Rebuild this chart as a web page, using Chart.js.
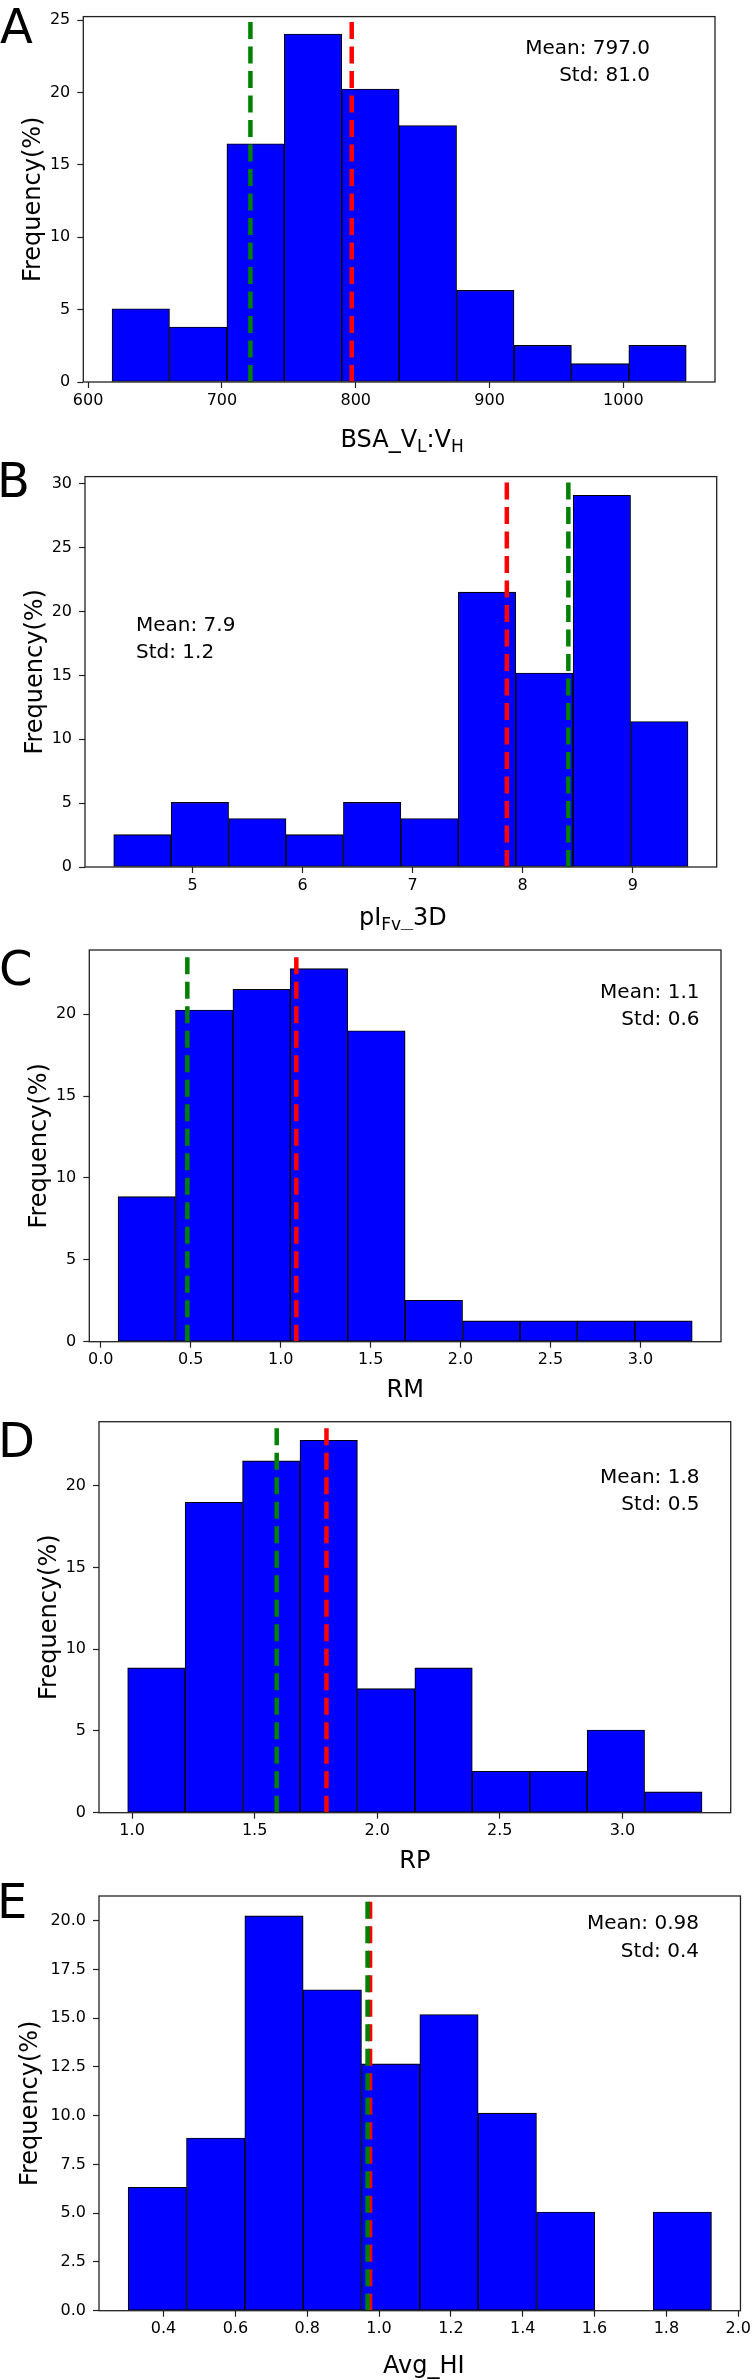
<!DOCTYPE html>
<html>
<head>
<meta charset="utf-8">
<script src="https://cdn.jsdelivr.net/npm/chart.js@4.4.0/dist/chart.umd.min.js"></script>
<style>
  html, body { margin: 0; padding: 0; background: #fff; }
  body { width: 754px; height: 2380px; position: relative; overflow: hidden; }
  canvas { position: absolute; left: 0; }
</style>
</head>
<body>
<canvas id="chartA"></canvas>
<canvas id="chartB"></canvas>
<canvas id="chartC"></canvas>
<canvas id="chartD"></canvas>
<canvas id="chartE"></canvas>
<script>
// ---- data (frequencies in %, n = 79) ----
const binEdgesA = [617.9, 660.81, 703.72, 746.63, 789.54, 832.45, 875.36, 918.27, 961.18, 1004.09, 1047.0];
const freqA = [5.06, 3.80, 16.46, 24.05, 20.25, 17.72, 6.33, 2.53, 1.27, 2.53];
const meanA = 797.0, medianA = 721.3;

const binEdgesB = [4.284, 4.8058, 5.3276, 5.8494, 6.3712, 6.893, 7.4148, 7.9366, 8.4584, 8.9802, 9.502];
const freqB = [2.53, 5.06, 3.80, 2.53, 5.06, 3.80, 21.52, 15.19, 29.11, 11.39];
const meanB = 7.856, medianB = 8.415;

const binEdgesC = [0.096, 0.4152, 0.7344, 1.0536, 1.3728, 1.692, 2.0112, 2.3304, 2.6496, 2.9688, 3.288];
const freqC = [8.86, 20.25, 21.52, 22.78, 18.99, 2.53, 1.27, 1.27, 1.27, 1.27];
const meanC = 1.087, medianC = 0.481;

const binEdgesD = [0.982, 1.2163, 1.4506, 1.6849, 1.9192, 2.1535, 2.3878, 2.6221, 2.8564, 3.0907, 3.325];
const freqD = [8.86, 18.99, 21.52, 22.78, 7.59, 8.86, 2.53, 2.53, 5.06, 1.27];
const meanD = 1.793, medianD = 1.59;

const binEdgesE = [0.3015, 0.4639, 0.6263, 0.7887, 0.9511, 1.1135, 1.2759, 1.4383, 1.6007, 1.7631, 1.9255];
const freqE = [6.33, 8.86, 20.25, 16.46, 12.66, 15.19, 10.13, 5.06, 0, 5.06];
const meanE = 0.975, medianE = 0.968;

const xTicksA = [600, 700, 800, 900, 1000];
const xLabelsA = ['600', '700', '800', '900', '1000'];
const yTicksA = [0, 5, 10, 15, 20, 25];
const yLabelsA = ['0', '5', '10', '15', '20', '25'];

const xTicksB = [5, 6, 7, 8, 9];
const xLabelsB = ['5', '6', '7', '8', '9'];
const yTicksB = [0, 5, 10, 15, 20, 25, 30];
const yLabelsB = ['0', '5', '10', '15', '20', '25', '30'];

const xTicksC = [0, 0.5, 1, 1.5, 2, 2.5, 3];
const xLabelsC = ['0.0', '0.5', '1.0', '1.5', '2.0', '2.5', '3.0'];
const yTicksC = [0, 5, 10, 15, 20];
const yLabelsC = ['0', '5', '10', '15', '20'];

const xTicksD = [1, 1.5, 2, 2.5, 3];
const xLabelsD = ['1.0', '1.5', '2.0', '2.5', '3.0'];
const yTicksD = [0, 5, 10, 15, 20];
const yLabelsD = ['0', '5', '10', '15', '20'];

const xTicksE = [0.4, 0.6, 0.8, 1.0, 1.2, 1.4, 1.6, 1.8, 2.0];
const xLabelsE = ['0.4', '0.6', '0.8', '1.0', '1.2', '1.4', '1.6', '1.8', '2.0'];
const yTicksE = [0, 2.5, 5, 7.5, 10, 12.5, 15, 17.5, 20];
const yLabelsE = ['0.0', '2.5', '5.0', '7.5', '10.0', '12.5', '15.0', '17.5', '20.0'];

const statsA = ['Mean: 797.0', 'Std: 81.0'];
const statsB = ['Mean: 7.9', 'Std: 1.2'];
const statsC = ['Mean: 1.1', 'Std: 0.6'];
const statsD = ['Mean: 1.8', 'Std: 0.5'];
const statsE = ['Mean: 0.98', 'Std: 0.4'];

// axis titles, [text, isSubscript]
const xTitleA = [['BSA_V', 0], ['L', 1], [':V', 0], ['H', 1]];
const xTitleB = [['pI', 0], ['Fv', 1], ['_3D', 0]];
const xTitleC = [['RM', 0]];
const xTitleD = [['RP', 0]];
const xTitleE = [['Avg_HI', 0]];
const yTitle = 'Frequency(%)';

const FONT = '"DejaVu Sans", sans-serif';
Chart.defaults.font.family = FONT;
Chart.defaults.font.size = 16;
Chart.defaults.color = '#000';

function centers(edges) {
  return edges.slice(0, -1).map((e, i) => (e + edges[i + 1]) / 2);
}

function drawRich(ctx, parts, cx, baseline, size) {
  const subSize = Math.round(size * 0.7);
  let total = 0;
  const widths = parts.map(p => {
    ctx.font = (p[1] ? subSize : size) + 'px ' + FONT;
    const w = ctx.measureText(p[0]).width;
    total += w;
    return w;
  });
  let x = cx - total / 2;
  ctx.textAlign = 'left';
  ctx.textBaseline = 'alphabetic';
  parts.forEach((p, i) => {
    ctx.font = (p[1] ? subSize : size) + 'px ' + FONT;
    ctx.fillText(p[0], x, baseline + (p[1] ? size * 0.22 : 0));
    x += widths[i];
  });
}

// box, panel letter, axis titles, stats text
const decor = {
  id: 'decor',
  afterDraw(chart, args, o) {
    const ctx = chart.ctx;
    const a = chart.chartArea;
    const t = o.top;
    ctx.save();
    ctx.strokeStyle = '#222';
    ctx.lineWidth = 1.3;
    ctx.strokeRect(a.left, a.top, a.right - a.left, a.bottom - a.top);

    ctx.fillStyle = '#000';
    ctx.font = '48px ' + FONT;
    ctx.textAlign = 'left';
    ctx.textBaseline = 'alphabetic';
    ctx.fillText(o.letter, o.letterX, o.letterY - t);

    ctx.save();
    ctx.translate(o.yTitleX, (a.top + a.bottom) / 2);
    ctx.rotate(-Math.PI / 2);
    ctx.font = '24px ' + FONT;
    ctx.textAlign = 'center';
    ctx.fillText(yTitle, 0, 0);
    ctx.restore();

    drawRich(ctx, o.xTitle, (a.left + a.right) / 2 + o.xTitleDx, o.xTitleY - t, 24);

    ctx.font = '20px ' + FONT;
    ctx.textAlign = o.statsAlign;
    ctx.textBaseline = 'middle';
    o.stats.forEach((s, i) => ctx.fillText(s, o.statsX, o.statsY[i] - t));
    ctx.restore();
  }
};

function makePanel(p) {
  const canvas = document.getElementById(p.id);
  canvas.width = 754;
  canvas.height = p.h;
  canvas.style.top = p.top + 'px';
  const mids = centers(p.edges);
  const vline = v => [{x: v, y: 0}, {x: v, y: p.ymax}];
  const lineStyle = {type: 'line', borderWidth: 4.5, borderDash: [17, 7.5], pointRadius: 0, fill: false, tension: 0};

  new Chart(canvas, {
    type: 'bar',
    data: {
      datasets: [
        {
          data: mids.map((x, i) => ({x: x, y: p.freq[i]})),
          backgroundColor: '#0000ff', borderColor: '#000', borderWidth: 1.1,
          borderSkipped: false, barPercentage: 1, categoryPercentage: 1, order: 3
        },
        Object.assign({data: vline(p.mean), borderColor: '#ff0000', order: 2}, lineStyle),
        Object.assign({data: vline(p.median), borderColor: '#008000', order: 1}, lineStyle)
      ]
    },
    options: {
      responsive: false,
      animation: false,
      events: [],
      layout: {padding: {left: 0, right: 754 - p.plot.right, top: p.plot.top - p.top, bottom: 0}},
      plugins: {
        legend: {display: false},
        tooltip: {enabled: false},
        decor: Object.assign({top: p.top}, p.text)
      },
      scales: {
        x: {
          type: 'linear', min: p.xRange[0], max: p.xRange[1], offset: false,
          border: {display: false},
          grid: {display: true, offset: false, drawOnChartArea: false, drawTicks: true, tickLength: 6, tickWidth: 1.2, tickColor: '#222'},
          ticks: {padding: 3, maxRotation: 0, autoSkip: false, callback: (v, i) => p.xLabels[i]},
          afterBuildTicks: s => { s.ticks = p.xTicks.map(v => ({value: v})); },
          afterFit: s => { s.height = p.h - (p.plot.bottom - p.top); }
        },
        y: {
          min: 0, max: p.ymax,
          border: {display: false},
          grid: {display: true, drawOnChartArea: false, drawTicks: true, tickLength: 6, tickWidth: 1.2, tickColor: '#222'},
          ticks: {padding: 7, autoSkip: false, callback: (v, i) => p.yLabels[i]},
          afterBuildTicks: s => { s.ticks = p.yTicks.map(v => ({value: v})); },
          afterFit: s => { s.width = p.plot.left; }
        }
      }
    },
    plugins: [decor]
  });
}

makePanel({
  id: 'chartA', top: 0, h: 460,
  plot: {left: 83.3, top: 7.5, right: 715, bottom: 382},
  edges: binEdgesA, freq: freqA, mean: meanA, median: medianA,
  xRange: [596.4, 1068.5], ymax: 25.25,
  xTicks: xTicksA, xLabels: xLabelsA, yTicks: yTicksA, yLabels: yLabelsA,
  text: {letter: 'A', letterX: 0, letterY: 43, yTitleX: 40, xTitle: xTitleA, xTitleDx: 3, xTitleY: 447,
         stats: statsA, statsAlign: 'right', statsX: 650, statsY: [49, 76]}
});

makePanel({
  id: 'chartB', top: 460, h: 470,
  plot: {left: 85, top: 476.5, right: 716.7, bottom: 867},
  edges: binEdgesB, freq: freqB, mean: meanB, median: medianB,
  xRange: [4.023, 9.763], ymax: 30.57,
  xTicks: xTicksB, xLabels: xLabelsB, yTicks: yTicksB, yLabels: yLabelsB,
  text: {letter: 'B', letterX: -3, letterY: 497, yTitleX: 42, xTitle: xTitleB, xTitleDx: 2, xTitleY: 925,
         stats: statsB, statsAlign: 'left', statsX: 136, statsY: [626, 653]}
});

makePanel({
  id: 'chartC', top: 930, h: 470,
  plot: {left: 89.3, top: 950, right: 721, bottom: 1341.7},
  edges: binEdgesC, freq: freqC, mean: meanC, median: medianC,
  xRange: [-0.064, 3.448], ymax: 23.92,
  xTicks: xTicksC, xLabels: xLabelsC, yTicks: yTicksC, yLabels: yLabelsC,
  text: {letter: 'C', letterX: -1, letterY: 985, yTitleX: 46, xTitle: xTitleC, xTitleDx: 0, xTitleY: 1397,
         stats: statsC, statsAlign: 'right', statsX: 699.5, statsY: [993, 1020]}
});

makePanel({
  id: 'chartD', top: 1400, h: 470,
  plot: {left: 99, top: 1421.7, right: 730.7, bottom: 1812.7},
  edges: binEdgesD, freq: freqD, mean: meanD, median: medianD,
  xRange: [0.865, 3.442], ymax: 23.92,
  xTicks: xTicksD, xLabels: xLabelsD, yTicks: yTicksD, yLabels: yLabelsD,
  text: {letter: 'D', letterX: -2, letterY: 1457, yTitleX: 56, xTitle: xTitleD, xTitleDx: 0, xTitleY: 1868,
         stats: statsD, statsAlign: 'right', statsX: 699.5, statsY: [1478, 1505]}
});

makePanel({
  id: 'chartE', top: 1870, h: 510,
  plot: {left: 99, top: 1896, right: 743, bottom: 2310.7},
  edges: binEdgesE, freq: freqE, mean: meanE, median: medianE,
  xRange: [0.2203, 2.0062], ymax: 21.27,
  xTicks: xTicksE, xLabels: xLabelsE, yTicks: yTicksE, yLabels: yLabelsE,
  text: {letter: 'E', letterX: -3, letterY: 1918, yTitleX: 37, xTitle: xTitleE, xTitleDx: 4, xTitleY: 2373,
         stats: statsE, statsAlign: 'right', statsX: 699, statsY: [1924, 1952]}
});
</script>
</body>
</html>
